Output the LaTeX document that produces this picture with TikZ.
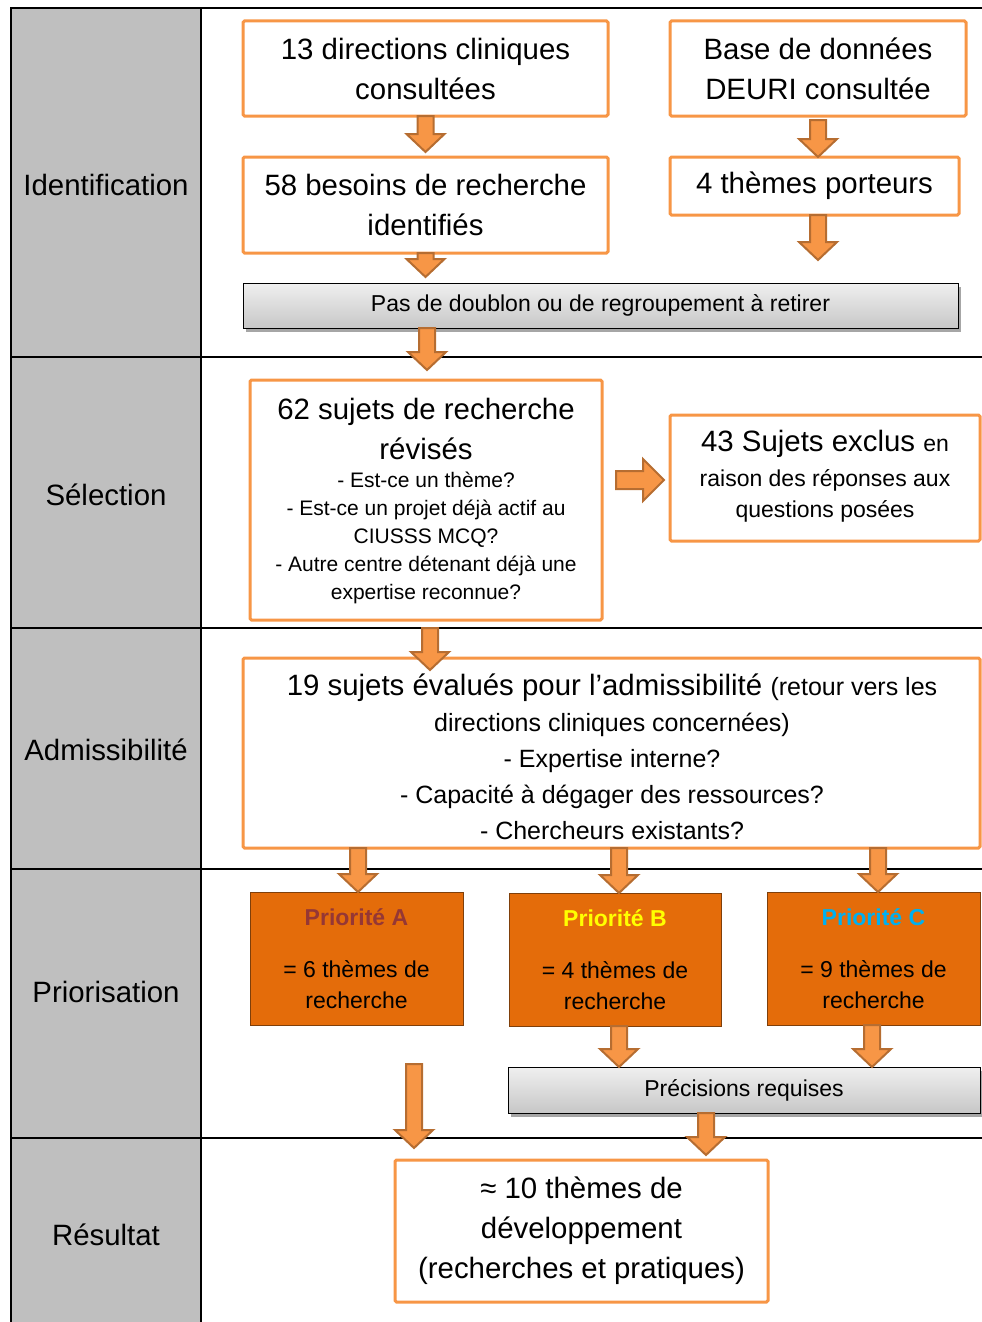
\documentclass[tikz,border=0pt]{standalone}
\usepackage{fontspec}
\setmainfont{Liberation Sans}
\usetikzlibrary{calc,shadows}
\definecolor{orangeb}{HTML}{F79646}
\definecolor{arrowedge}{HTML}{B66D31}
\definecolor{prifill}{HTML}{E46C0A}
\definecolor{priedge}{HTML}{7F3F0A}
\definecolor{colgray}{HTML}{BFBFBF}
\definecolor{priA}{HTML}{953735}
\definecolor{priB}{HTML}{FFFF00}
\definecolor{priC}{HTML}{00B0F0}
\newcommand{\fbig}{\fontsize{29.4}{40}\selectfont}
\newcommand{\fmed}{\fontsize{25}{36}\selectfont}
\newcommand{\fsm}{\fontsize{23}{31}\selectfont}
\newcommand{\fxs}{\fontsize{21}{28}\selectfont}
\newcommand{\varrow}[2]{\path[blockarrow] let \p1=(#1), \p2=(#2) in
  (\x1-8pt,\y1) -- (\x1-8pt,\y2+18pt) -- (\x1-19pt,\y2+18pt) -- (\x1,\y2) --
  (\x1+19pt,\y2+18pt) -- (\x1+8pt,\y2+18pt) -- (\x1+8pt,\y1) -- cycle;}
\newcommand{\harrow}[2]{\path[blockarrow] let \p1=(#1), \p2=(#2) in
  (\x1,\y1-9pt) -- (\x2-21pt,\y1-9pt) -- (\x2-21pt,\y1-21pt) -- (\x2,\y1) --
  (\x2-21pt,\y1+21pt) -- (\x2-21pt,\y1+9pt) -- (\x1,\y1+9pt) -- cycle;}
\tikzset{
  obox/.style={draw=orangeb, line width=3pt, fill=white, rounded corners=1.5pt, align=center, inner sep=0pt, outer sep=0pt},
  gbox/.style={draw=black, line width=1pt, top color=white!94!black, bottom color=white!78!black,
    drop shadow={shadow xshift=3pt, shadow yshift=-4pt, opacity=0.35, fill=black},
    font=\fsm, inner sep=0pt, outer sep=0pt},
  pbox/.style={draw=priedge, line width=1pt, fill=prifill, align=center, font=\fsm, inner sep=0pt, outer sep=0pt},
  blockarrow/.style={fill=orangeb, draw=arrowedge, line width=2pt, line join=miter},
  tline/.style={line width=2pt, line cap=rect},
  lbl/.style={font=\fbig, inner sep=0pt},
  txt/.style={align=center, inner sep=0pt}
}
\begin{document}
\begin{tikzpicture}[x=1pt, y=-1pt]
\useasboundingbox (0,0) rectangle (982,1322);
% table
\fill[colgray] (11,8) rectangle (201,1322);
\draw[tline] (11,1322) -- (11,8) -- (982,8);
\draw[tline] (201,8) -- (201,1322);
\foreach \yy in {357,628,869,1138} \draw[tline] (11,\yy) -- (982,\yy);
% row labels
\node[lbl] (lid) at (106,185) {Identification};
\node[lbl] (lsel) at (106,495) {Sélection};
\node[lbl] (ladm) at (106,750) {Admissibilité};
\node[lbl] (lpri) at (106,992) {Priorisation};
\node[lbl] (lres) at (106,1235) {Résultat};
% identification
\node[obox, font=\fbig, minimum width=365, minimum height=95] (b1) at (425.5,68.5) {13 directions cliniques\\consultées};
\node[obox, font=\fbig, minimum width=296, minimum height=95] (b2) at (818,68.5) {Base de données\\DEURI consultée};
\node[obox, font=\fbig, minimum width=365, minimum height=96] (b3) at (425.5,205) {58 besoins de recherche\\identifiés};
\node[obox, font=\fbig, minimum width=289, minimum height=58] (b4) at (814.5,186) {4 thèmes porteurs};
\node[gbox, minimum width=715, minimum height=45] (g1) at (600.5,305.5) {Pas de doublon ou de regroupement à retirer};
% selection
\node[obox, minimum width=352, minimum height=240] (b5) at (426,500) {};
\node[txt, font=\fbig] (t5a) at (426,429) {62 sujets de recherche\\révisés};
\node[txt, font=\fxs] (t5b) at (426,538) {- Est-ce un thème?\\- Est-ce un projet déjà actif au\\CIUSSS MCQ?\\- Autre centre détenant déjà une\\expertise reconnue?};
\node[obox, minimum width=310, minimum height=126] (b6) at (825,478) {};
\node[txt, font=\fbig] (t6a) at (825,444) {43 Sujets exclus {\fsm en}};
\node[txt, font=\fsm] (t6b) at (825,496) {raison des réponses aux\\questions posées};
% admissibilite
\node[obox, minimum width=737, minimum height=190] (b7) at (611.5,753) {};
\node[txt, font=\fbig] (t7a) at (612,688) {19 sujets évalués pour l’admissibilité {\fmed (retour vers les}};
\node[txt, font=\fmed] (t7b) at (612,776) {directions cliniques concernées)\\- Expertise interne?\\- Capacité à dégager des ressources?\\- Chercheurs existants?};
% priorisation
\node[pbox, minimum width=213, minimum height=133] (pa) at (356.5,958.5) {\textbf{\color{priA}Priorité A}\\[21pt]= 6 thèmes de\\recherche};
\node[pbox, minimum width=212, minimum height=133] (pb) at (615,959.5) {\textbf{\color{priB}Priorité B}\\[21pt]= 4 thèmes de\\recherche};
\node[pbox, minimum width=213, minimum height=133] (pc) at (873.5,958.5) {\textbf{\color{priC}Priorité C}\\[21pt]= 9 thèmes de\\recherche};
\node[gbox, minimum width=472, minimum height=46] (g2) at (744,1090) {Précisions requises};
% resultat
\node[obox, font=\fbig, minimum width=373, minimum height=142] (b8) at (581.5,1231) {≈ 10 thèmes de\\développement\\(recherches et pratiques)};
\coordinate (a13s) at (414,1064);
% arrows
\varrow{b1.south}{[yshift=5pt]b3.north}
\varrow{[yshift=-4pt]b2.south}{b4.north}
\varrow{b3.south}{[yshift=6pt]g1.north}
\varrow{[xshift=3.5pt]b4.south}{[yshift=23pt]g1.north}
\varrow{[xshift=-173.5pt]g1.south}{[yshift=10pt]b5.north}
\harrow{[xshift=14pt,yshift=20pt]b5.east}{[xshift=-6pt,yshift=2pt]b6.west}
\varrow{[xshift=4pt,yshift=-8pt]b5.south}{[yshift=-12pt]b7.north}
\varrow{[xshift=-253.5pt]b7.south}{pa.north}
\varrow{[xshift=7.5pt]b7.south}{pb.north}
\varrow{[xshift=266.5pt]b7.south}{pc.north}
\varrow{[xshift=4pt]pb.south}{g2.north}
\varrow{[xshift=-1.5pt]pc.south}{g2.north}
\varrow{a13s}{[yshift=12pt]b8.north}
\varrow{[xshift=-38pt]g2.south}{[yshift=5pt]b8.north}
\end{tikzpicture}
\end{document}
